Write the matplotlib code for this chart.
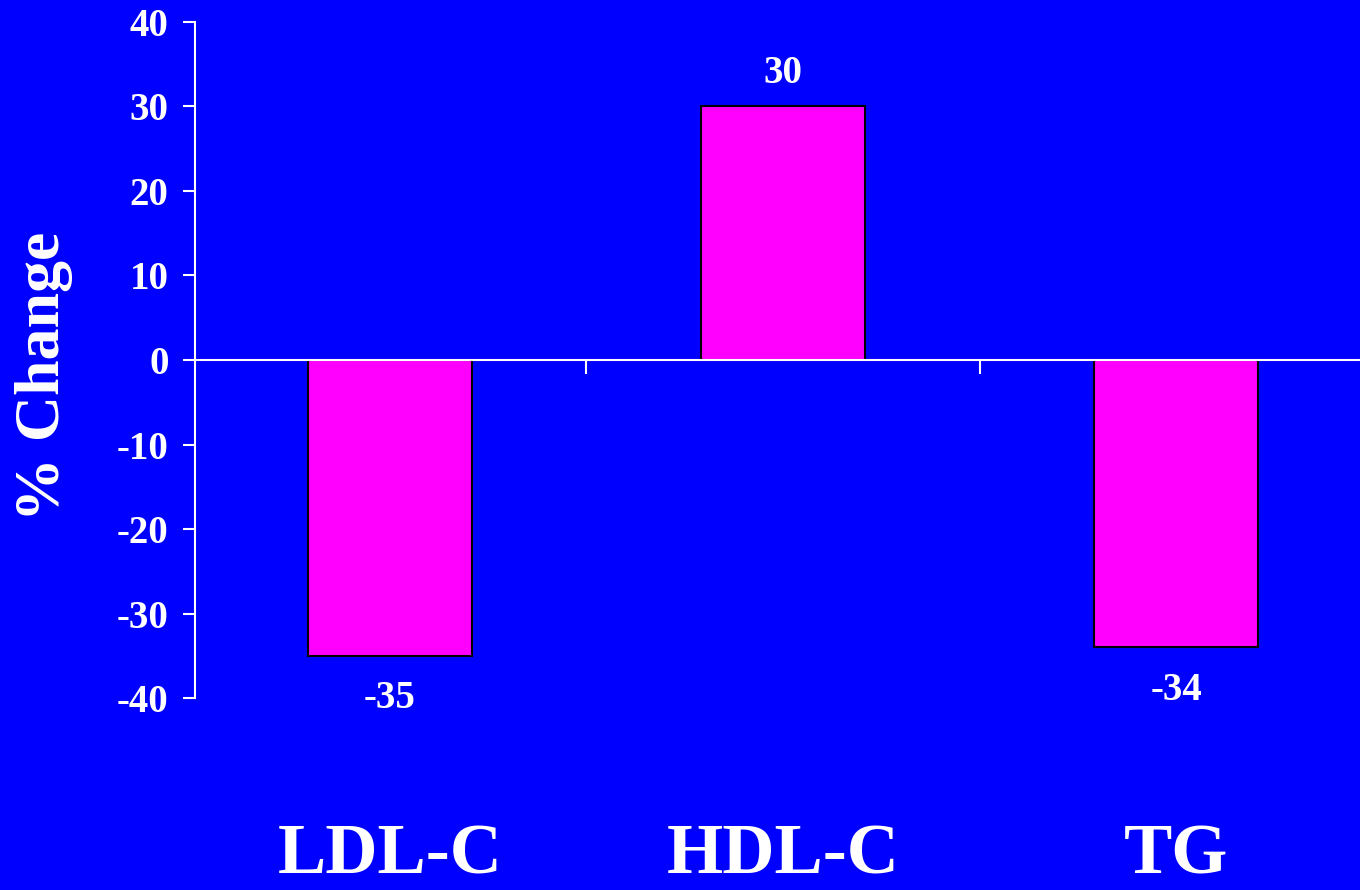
import matplotlib.pyplot as plt
import matplotlib.transforms as mtransforms

# Percent change in lipid fractions
categorias = ['LDL-C', 'HDL-C', 'TG']
cambio = [-35, 30, -34]
yticks = [-40, -30, -20, -10, 0, 10, 20, 30, 40]

plt.rcParams['font.family'] = ['Liberation Serif', 'DejaVu Serif']
plt.rcParams['font.weight'] = 'bold'

azul = '#0000FF'
fig = plt.figure(figsize=(13.6, 8.9), dpi=100, facecolor=azul)
ax = fig.add_axes([195 / 1360, 0.2157, 1 - 195 / 1360, 0.7596], facecolor=azul)

x = list(range(len(categorias)))
barras = ax.bar(x, cambio, width=0.415, color='#FF00FF', edgecolor='black', linewidth=1.5, zorder=2)

# Value labels above/below each bar
for xi, v in zip(x, cambio):
    off = 24 if v > 0 else -31
    ax.annotate(str(v), (xi, v), xytext=(0, off), textcoords='offset points',
                ha='center', va='center', color='white', fontsize=28, fontweight='bold')

ax.set_xlim(-0.496, 2.468)
ax.set_ylim(-40, 40)
ax.set_yticks(yticks)
ax.set_yticklabels([str(t) for t in yticks])

for s in ['top', 'right']:
    ax.spines[s].set_visible(False)
ax.spines['left'].set_color('white')
ax.spines['left'].set_linewidth(1.5)
ax.spines['bottom'].set_position(('data', 0))
ax.spines['bottom'].set_color('white')
ax.spines['bottom'].set_linewidth(1.5)
ax.spines['bottom'].set_zorder(3)

ax.set_xticks([0.5, 1.5])
ax.set_xticklabels([])
ax.tick_params(axis='x', direction='out', length=10, width=1.5, color='white')
ax.tick_params(axis='y', direction='out', length=9, width=1.5, color='white',
               labelcolor='white', labelsize=28, pad=10)
for lbl in ax.get_yticklabels():
    lbl.set_fontweight('bold')

# Category names along the bottom
trans = mtransforms.blended_transform_factory(ax.transData, fig.transFigure)
for xi, nombre in zip(x, categorias):
    ax.text(xi, 1 - 856 / 890, nombre, transform=trans, ha='center', va='center',
            color='white', fontsize=52, fontweight='bold', clip_on=False)

fig.text(44 / 1360, 1 - 376 / 890, '% Change', rotation=90, ha='center', va='center',
         color='white', fontsize=46, fontweight='bold')

fig.savefig('out.png', dpi=100, facecolor=azul)
